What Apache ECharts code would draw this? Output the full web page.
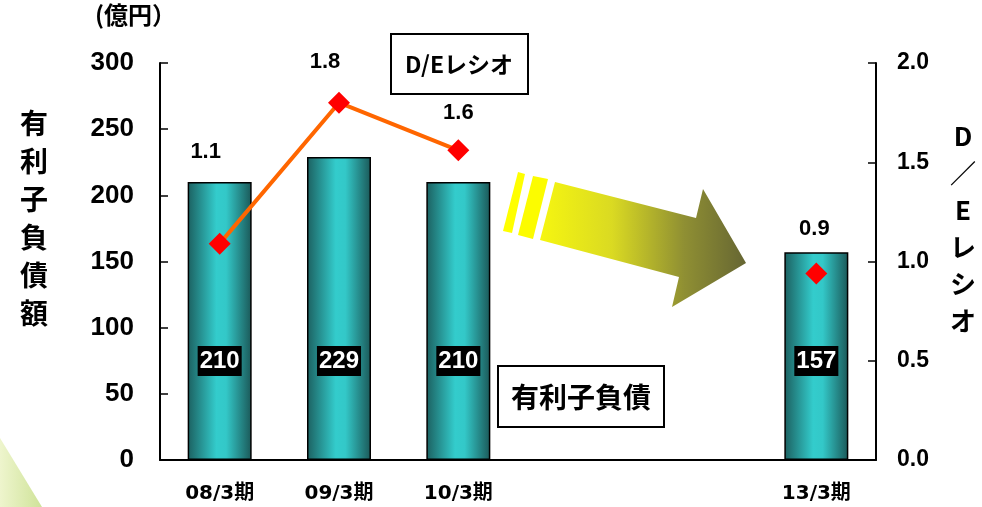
<!DOCTYPE html>
<html>
<head>
<meta charset="utf-8">
<script src="https://cdn.jsdelivr.net/npm/echarts@6/dist/echarts.min.js"></script>
<style>
  html, body { margin: 0; padding: 0; background: #ffffff; }
  #chart { width: 982px; height: 507px; }
</style>
</head>
<body>
<div id="chart"></div>
<script>
// Fiscal periods (two blank slots stand for the skipped years)
const periods = ['08/3期', '09/3期', '10/3期', '', '', '13/3期'];
// Interest-bearing debt, 100 million yen
const debtValues = [210, 229, 210, null, null, 157];
// Debt/equity ratio
const deRatio = [1.09, 1.80, 1.56, null, null, 0.94];
// Axis ticks
const debtTicks = [0, 50, 100, 150, 200, 250, 300];
const ratioTicks = [0.0, 0.5, 1.0, 1.5, 2.0];

const FONT = '"Liberation Sans", Arial, "Noto Sans CJK JP", sans-serif';
const WIDE = '"DejaVu Sans", "Noto Sans CJK JP", sans-serif';
const JFONT = '"Noto Sans CJK JP", "Liberation Sans", sans-serif';

// Per-point nudges for the ratio labels
const ratioLabelOffset = [[-14, -66], [-14, -15], [0, -11], [0, 0], [0, 0], [-2, -18]];

const chart = echarts.init(document.getElementById('chart'));

const barFill = new echarts.graphic.LinearGradient(0, 0, 1, 0, [
  { offset: 0, color: '#1c6060' },
  { offset: 0.45, color: '#33cccc' },
  { offset: 0.6, color: '#33c8c8' },
  { offset: 1, color: '#1b5858' }
]);

const ratioData = deRatio.map((v, i) => ({
  value: v,
  label: { offset: ratioLabelOffset[i] }
}));

const option = {
  animation: false,
  backgroundColor: '#ffffff',
  grid: { left: 160, right: 106, top: 63, bottom: 47 },
  xAxis: {
    type: 'category',
    data: periods,
    boundaryGap: true,
    axisLine: { lineStyle: { color: '#000', width: 2 } },
    axisTick: { inside: true, length: 8, lineStyle: { color: '#000', width: 1.5 } },
    axisLabel: { color: '#000', fontWeight: 'bold', fontSize: 20, fontFamily: WIDE, margin: 24, interval: 0 }
  },
  yAxis: [
    {
      type: 'value',
      min: debtTicks[0],
      max: debtTicks[debtTicks.length - 1],
      interval: debtTicks[1] - debtTicks[0],
      axisLine: { show: true, lineStyle: { color: '#000', width: 2 } },
      axisTick: { show: true, inside: true, length: 8, lineStyle: { color: '#000', width: 1.5 } },
      splitLine: { show: false },
      axisLabel: { color: '#000', fontWeight: 'bold', fontSize: 26, fontFamily: FONT, margin: 26 }
    },
    {
      type: 'value',
      position: 'right',
      min: ratioTicks[0],
      max: ratioTicks[ratioTicks.length - 1],
      interval: ratioTicks[1] - ratioTicks[0],
      axisLine: { show: true, lineStyle: { color: '#000', width: 2 } },
      axisTick: { show: true, inside: true, length: 8, lineStyle: { color: '#000', width: 1.5 } },
      splitLine: { show: false },
      axisLabel: {
        color: '#000', fontWeight: 'bold', fontSize: 23, fontFamily: FONT, margin: 21,
        formatter: v => v.toFixed(1)
      }
    }
  ],
  series: [
    {
      name: '有利子負債',
      type: 'bar',
      data: debtValues,
      barWidth: 64,
      yAxisIndex: 0,
      itemStyle: { color: barFill, borderColor: '#000', borderWidth: 1.5 },
      label: {
        show: true,
        position: 'insideBottom',
        distance: 84,
        color: '#fff',
        backgroundColor: '#000',
        fontWeight: 'bold',
        fontSize: 24,
        fontFamily: FONT,
        lineHeight: 25,
        padding: [3, 2, 2, 2]
      },
      z: 2
    },
    {
      name: 'D/Eレシオ',
      type: 'line',
      yAxisIndex: 1,
      data: ratioData,
      connectNulls: false,
      symbol: 'diamond',
      symbolSize: 22,
      lineStyle: { color: '#ff6600', width: 4 },
      itemStyle: { color: '#ff0000' },
      label: {
        show: true,
        position: 'top',
        distance: 4,
        color: '#000',
        fontWeight: 'bold',
        fontSize: 22,
        fontFamily: FONT,
        formatter: p => (p.value == null ? '' : p.value.toFixed(1))
      },
      z: 5
    }
  ],
  graphic: [
    // soft green corner wedge
    {
      type: 'polygon',
      shape: { points: [[0, 438], [42, 507], [0, 507]] },
      style: {
        fill: new echarts.graphic.LinearGradient(0, 0, 1, 0, [
          { offset: 0, color: '#eef5cd' },
          { offset: 1, color: '#cfe399' }
        ])
      },
      z: 0
    },
    // unit caption
    {
      type: 'text', left: 95, top: 3,
      style: { text: '(億円）', font: 'bold 24px ' + JFONT, fill: '#000' }
    },
    // left axis title, stacked vertically
    {
      type: 'text', x: 34, y: 104,
      style: {
        text: '有\n利\n子\n負\n債\n額', font: 'bold 28px ' + JFONT, fill: '#000',
        align: 'center', verticalAlign: 'top', lineHeight: 38
      }
    },
    // right axis title, stacked vertically
    {
      type: 'text', x: 963, y: 118,
      style: {
        text: 'D\n／\nE\nレ\nシ\nオ', font: 'bold 26px ' + JFONT, fill: '#000',
        align: 'center', verticalAlign: 'top', lineHeight: 37
      }
    },
    // series caption boxes
    {
      type: 'group', left: 390, top: 33,
      children: [
        { type: 'rect', shape: { x: 0, y: 0, width: 137, height: 60 }, style: { fill: '#fff', stroke: '#000', lineWidth: 2 } },
        { type: 'text', x: 68, y: 30, style: { text: 'D/Eレシオ', font: 'bold 23px ' + JFONT, fill: '#000', align: 'center', verticalAlign: 'middle' } }
      ]
    },
    {
      type: 'group', left: 497, top: 365,
      children: [
        { type: 'rect', shape: { x: 0, y: 0, width: 166, height: 61 }, style: { fill: '#fff', stroke: '#000', lineWidth: 2 } },
        { type: 'text', x: 83, y: 31, style: { text: '有利子負債', font: 'bold 28px ' + JFONT, fill: '#000', align: 'center', verticalAlign: 'middle' } }
      ]
    },
    // trend arrow with speed stripes
    {
      type: 'polygon',
      shape: { points: [[518, 172], [525, 174], [512, 233], [503, 231]] },
      style: { fill: '#ffff00' }
    },
    {
      type: 'polygon',
      shape: { points: [[533, 176], [548, 179], [533, 239], [518, 235]] },
      style: { fill: '#fcfc00' }
    },
    {
      type: 'polygon',
      shape: { points: [[555, 182], [696, 218], [703, 189], [746, 263], [672, 307], [679, 277], [540, 240]] },
      style: {
        fill: new echarts.graphic.LinearGradient(0, 0, 1, 0, [
          { offset: 0, color: '#f6f610' },
          { offset: 0.35, color: '#dada22' },
          { offset: 0.7, color: '#8f8f33' },
          { offset: 1, color: '#666633' }
        ])
      }
    }
  ]
};

chart.setOption(option);
</script>
</body>
</html>
